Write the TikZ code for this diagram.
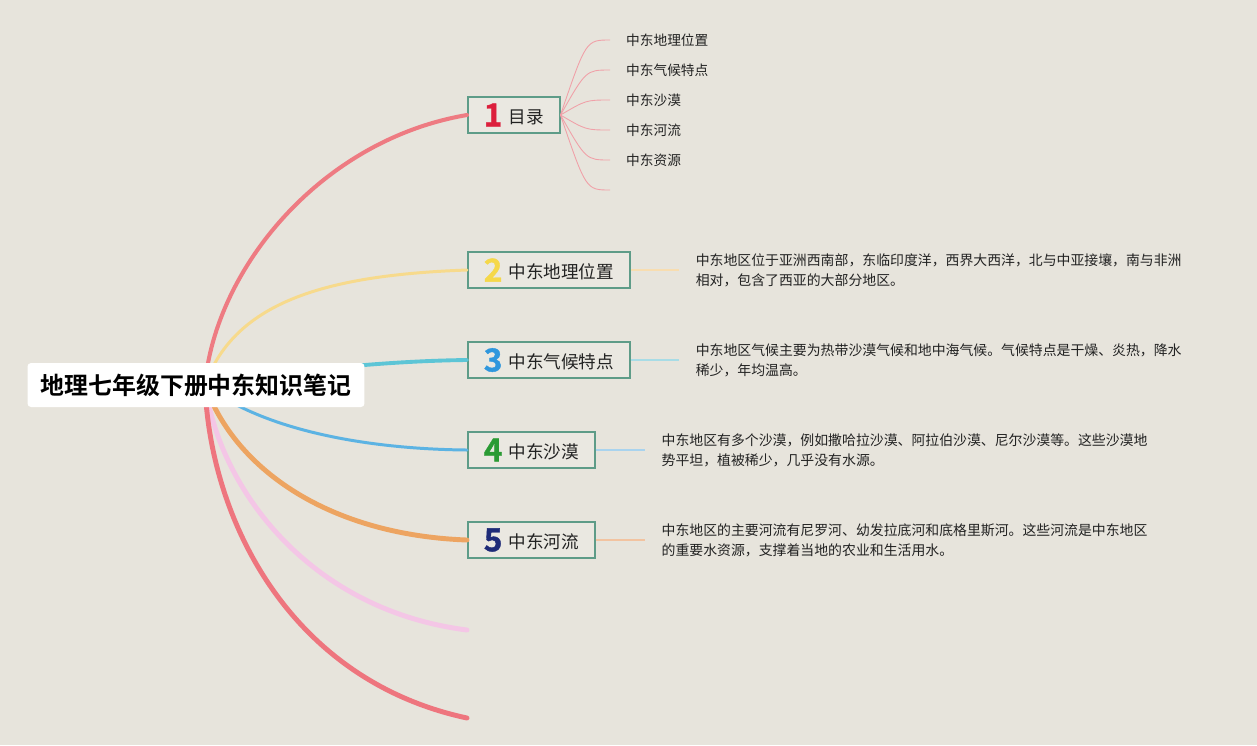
\documentclass[tikz,border=0pt]{standalone}
\usepackage{fontspec}
\setmainfont{Noto Sans CJK SC}[BoldFont={Noto Sans CJK SC Bold}]
\usetikzlibrary{positioning,calc}

\definecolor{paper}{HTML}{E7E4DC}
\definecolor{boxfill}{HTML}{EAE8E1}
\definecolor{frame}{HTML}{5E9C88}
\definecolor{ink}{HTML}{222222}
\definecolor{brred}{HTML}{EE7B82}
\definecolor{bryellow}{HTML}{F7DA8C}
\definecolor{brcyan}{HTML}{5DC5D6}
\definecolor{brblue}{HTML}{5CB3E3}
\definecolor{brorange}{HTML}{EDA461}
\definecolor{brpink}{HTML}{F4C6E6}
\definecolor{brredlow}{HTML}{EE757E}
\definecolor{subred}{HTML}{F0A0A8}
\definecolor{lnyellow}{HTML}{F8DDB0}
\definecolor{lncyan}{HTML}{A8DCE6}
\definecolor{lnblue}{HTML}{A9D3EE}
\definecolor{lnorange}{HTML}{F2C3A0}
\definecolor{num1}{HTML}{DC1F3C}
\definecolor{num2}{HTML}{F5D84A}
\definecolor{num3}{HTML}{2F97DD}
\definecolor{num4}{HTML}{2A9B34}
\definecolor{num5}{HTML}{1E2B78}

\newcommand{\topicnum}[2]{\raisebox{-1.8pt}{\fontsize{18}{18}\selectfont\bfseries\addfontfeatures{FakeBold=1.2}\color{#1}#2}\hspace{3.5pt}}

\begin{document}
\begin{tikzpicture}[
x=0.02cm, y=-0.02cm,
node distance=0.96cm,
root/.style={rectangle, fill=white, rounded corners=2pt, minimum height=0.88cm, inner xsep=7.5pt, font=\fontsize{13.6}{16}\selectfont\bfseries},
topic/.style={rectangle, draw=frame, line width=1.1pt, fill=boxfill, anchor=west, minimum height=0.72cm, inner ysep=0pt, inner xsep=9pt, text=ink, font=\fontsize{10}{12}\selectfont},
sub/.style={anchor=west, inner xsep=9pt, text=ink, font=\fontsize{7.8}{10}\selectfont},
note/.style={align=left, inner xsep=9.5pt, text=ink, font=\fontsize{7.9}{11.3}\selectfont},
branch/.style={line cap=round},
subline/.style={draw=subred, line width=0.5pt},
link/.style={line width=0.8pt}
]

\fill[paper] (0,0) rectangle (1257,745);

% topics
\node[topic] (toc) at (467,115) {\topicnum{num1}{1}目录};
\node[topic] (geo) at (467,270) {\topicnum{num2}{2}中东地理位置};
\node[topic] (clim) at (467,360) {\topicnum{num3}{3}中东气候特点};
\node[topic] (desert) at (467,450) {\topicnum{num4}{4}中东沙漠};
\node[topic] (river) at (467,540) {\topicnum{num5}{5}中东河流};

\coordinate (hub) at (205,385);
\coordinate (end1) at (467,630);
\coordinate (end2) at (467,718);

% branches
\draw[branch, draw=brred, line width=2.3pt] (hub) .. controls (215,270) and (320,140) .. (toc.west);
\draw[branch, draw=bryellow, line width=1.7pt] (hub) .. controls (235,300) and (330,275) .. (geo.west);
\draw[branch, draw=brcyan, line width=2.2pt] (hub) .. controls (280,372) and (380,361) .. (clim.west);
\draw[branch, draw=brblue, line width=1.7pt] (hub) .. controls (260,428) and (360,449) .. (desert.west);
\draw[branch, draw=brorange, line width=2.8pt] (hub) .. controls (235,470) and (330,535) .. (river.west);
\draw[branch, draw=brpink, line width=2.8pt] (hub) .. controls (220,490) and (310,610) .. (end1);
\draw[branch, draw=brredlow, line width=2.8pt] (hub) .. controls (210,520) and (290,680) .. (end2);

\node[root] (root) at (196,385) {地理七年级下册中东知识笔记};

% contents list
\foreach \t [count=\i] in {中东地理位置,中东气候特点,中东沙漠,中东河流,中东资源}
  \node[sub] (s\i) at (610,10+30*\i) {\t};
\coordinate (s6) at (610,190);
\foreach \i in {1,...,6}
  \draw[subline] (toc.east) .. controls ($(s\i.west)+(-24,0)$) .. (s\i.west);

% notes
\node[note, right=0.96cm of geo] (geonote) {中东地区位于亚洲西南部，东临印度洋，西界大西洋，北与中亚接壤，南与非洲\\相对，包含了西亚的大部分地区。};
\node[note, right=0.96cm of clim] (climnote) {中东地区气候主要为热带沙漠气候和地中海气候。气候特点是干燥、炎热，降水\\稀少，年均温高。};
\node[note, right=0.98cm of desert] (desertnote) {中东地区有多个沙漠，例如撒哈拉沙漠、阿拉伯沙漠、尼尔沙漠等。这些沙漠地\\势平坦，植被稀少，几乎没有水源。};
\node[note, right=0.98cm of river] (rivernote) {中东地区的主要河流有尼罗河、幼发拉底河和底格里斯河。这些河流是中东地区\\的重要水资源，支撑着当地的农业和生活用水。};

\draw[link, draw=lnyellow] (geo) -- (geonote);
\draw[link, draw=lncyan] (clim) -- (climnote);
\draw[link, draw=lnblue] (desert) -- (desertnote);
\draw[link, draw=lnorange] (river) -- (rivernote);

\end{tikzpicture}
\end{document}
